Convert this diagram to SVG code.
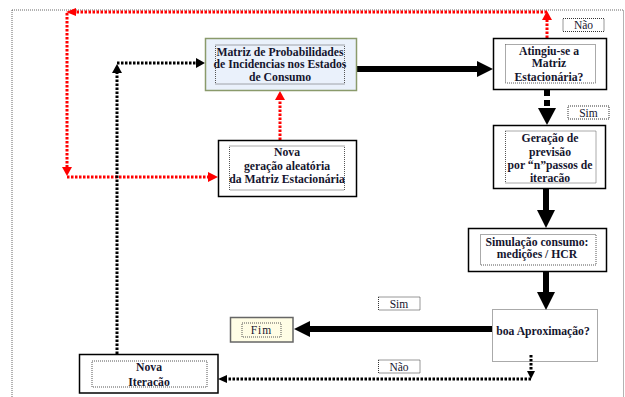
<svg xmlns="http://www.w3.org/2000/svg" width="625" height="397" viewBox="0 0 625 397">
<style>
  .t { font-family: "Liberation Serif", "DejaVu Serif", "Times New Roman", serif; font-size: 11.7px; font-weight: bold; fill: #15152e; text-anchor: middle; }
  .lt { font-family: "Liberation Serif", "DejaVu Serif", "Times New Roman", serif; font-size: 11.5px; fill: #15152e; text-anchor: middle; }
  .box { fill: #ffffff; stroke: #000000; stroke-width: 1.5; }
  .inner { fill: none; stroke: #555555; stroke-width: 1; stroke-dasharray: 1 1; }
  .lbl { fill: #ffffff; stroke: #333333; stroke-width: 1; stroke-dasharray: 1 1; }
  .red { fill: none; stroke: #ff0000; stroke-width: 3; stroke-dasharray: 2.5 1.5; }
  .blk { fill: none; stroke: #000000; stroke-width: 3; stroke-dasharray: 2.5 1.5; }
  .solid { fill: none; stroke: #000000; stroke-width: 6; }
  .dash { fill: none; stroke: #000000; stroke-width: 6; stroke-dasharray: 6 4; }
  .rh { fill: #ff0000; }
  .bh { fill: #000000; }
</style>
<rect x="0" y="0" width="625" height="397" fill="#ffffff"/>
<rect x="12" y="10" width="611.5" height="400" fill="none" stroke="#666666" stroke-width="1" stroke-dasharray="1 1"/>

<g id="connectors">
  <polyline class="red" points="547,38 547,19"/>
  <polygon class="rh" points="547,11 542,20 552,20"/>
  <polyline class="red" points="547,12 76,12"/>
  <polygon class="rh" points="66,12 76,8 76,16"/>
  <polyline class="red" points="67,13 67,167"/>
  <polygon class="rh" points="67,176 62,167 72,167"/>
  <polyline class="red" points="67,177 208,177"/>
  <polygon class="rh" points="218,177 208,172 208,182"/>
  <polyline class="red" points="280,140 280,100"/>
  <polygon class="rh" points="280,91 275,100 285,100"/>
  <polyline class="blk" points="117,354 117,73"/>
  <polygon class="bh" points="117,64 112,73 122,73"/>
  <polyline class="blk" points="117,63 196,63"/>
  <polygon class="bh" points="205,63 196,58 196,68"/>
  <line class="solid" x1="357" y1="69" x2="478" y2="69"/>
  <polygon class="bh" points="493,69 477,61 477,77"/>
  <line class="dash" x1="547" y1="90" x2="547" y2="110"/>
  <polygon class="bh" points="547,125 538,108 556,108"/>
  <line class="solid" x1="546" y1="189" x2="546" y2="212"/>
  <polygon class="bh" points="546,228 537,210 555,210"/>
  <line class="solid" x1="546" y1="272" x2="546" y2="294"/>
  <polygon class="bh" points="546,310 537,292 555,292"/>
  <line class="solid" x1="492" y1="329" x2="309" y2="329"/>
  <polygon class="bh" points="294,329 310,321 310,337"/>
  <polyline class="blk" points="531,355 531,371"/>
  <polygon class="bh" points="531,379 527,371 535,371"/>
  <polyline class="blk" points="531,379 226,379"/>
  <polygon class="bh" points="218,379 227,375 227,383"/>
</g>

<g id="matriz">
  <rect x="205.5" y="38.5" width="151" height="52" fill="#eaf1fb" stroke="#8a9a6b" stroke-width="1.5"/>
  <rect class="inner" x="215.5" y="45" width="129" height="39"/>
  <text class="t" x="280" y="56">Matriz de Probabilidades</text>
  <text class="t" x="280" y="67.5">de Incidencias nos Estados</text>
  <text class="t" x="280" y="81">de Consumo</text>
</g>

<g id="nova-geracao">
  <rect class="box" x="218.5" y="140.5" width="138" height="56"/>
  <rect class="inner" x="229.5" y="146" width="115" height="44"/>
  <text class="t" x="287" y="156">Nova</text>
  <text class="t" x="287" y="170">geração aleatória</text>
  <text class="t" x="287" y="183">da Matriz Estacionária</text>
</g>

<g id="atingiu">
  <rect class="box" x="493.5" y="38.5" width="113" height="51"/>
  <rect class="inner" x="505.5" y="44.5" width="90" height="38.5"/>
  <text class="t" x="549" y="55">Atingiu-se a</text>
  <text class="t" x="549" y="67">Matriz</text>
  <text class="t" x="549" y="81">Estacionária?</text>
</g>

<g id="label-nao-top">
  <rect class="lbl" x="563" y="18.5" width="41" height="13"/>
  <text class="lt" x="583.5" y="29">Não</text>
</g>

<g id="label-sim-top">
  <rect class="lbl" x="568" y="106" width="41" height="13"/>
  <text class="lt" x="588.5" y="116.5">Sim</text>
</g>

<g id="geracao">
  <rect class="box" x="493.5" y="125.5" width="112" height="63"/>
  <rect class="inner" x="505.5" y="131" width="90.5" height="52"/>
  <text class="t" x="550" y="142">Geração de</text>
  <text class="t" x="550" y="155.5">previsão</text>
  <text class="t" x="550" y="169">por “n”passos de</text>
  <text class="t" x="550" y="182">iteracão</text>
</g>

<g id="simulacao">
  <rect class="box" x="468.5" y="228.5" width="138" height="43"/>
  <rect class="inner" x="480.5" y="234.5" width="115.5" height="30.5"/>
  <text class="t" x="537" y="246">Simulação consumo:</text>
  <text class="t" x="537" y="258">medições / HCR</text>
</g>

<g id="boa">
  <rect class="inner" x="492.5" y="309.5" width="105" height="52" fill="#ffffff"/>
  <text class="t" x="543" y="335">boa Aproximação?</text>
</g>

<g id="label-sim-bottom">
  <rect class="lbl" x="378.5" y="297" width="41.5" height="13"/>
  <text class="lt" x="399" y="307.5">Sim</text>
</g>

<g id="fim">
  <rect x="230.5" y="317.5" width="62.5" height="24.5" fill="#fffde5" stroke="#666666" stroke-width="1.5"/>
  <rect class="inner" x="242" y="323" width="39" height="14"/>
  <text class="lt" x="261.5" y="334" style="letter-spacing:1px">Fim</text>
</g>

<g id="label-nao-bottom">
  <rect class="lbl" x="378.5" y="360" width="41.5" height="13"/>
  <text class="lt" x="399" y="370.5">Não</text>
</g>

<g id="nova-iteracao">
  <rect class="box" x="79.5" y="354.5" width="138.5" height="38.5"/>
  <rect class="inner" x="92" y="361" width="115" height="26"/>
  <text class="t" x="149" y="371">Nova</text>
  <text class="t" x="149" y="385.5">Iteracão</text>
</g>
</svg>
